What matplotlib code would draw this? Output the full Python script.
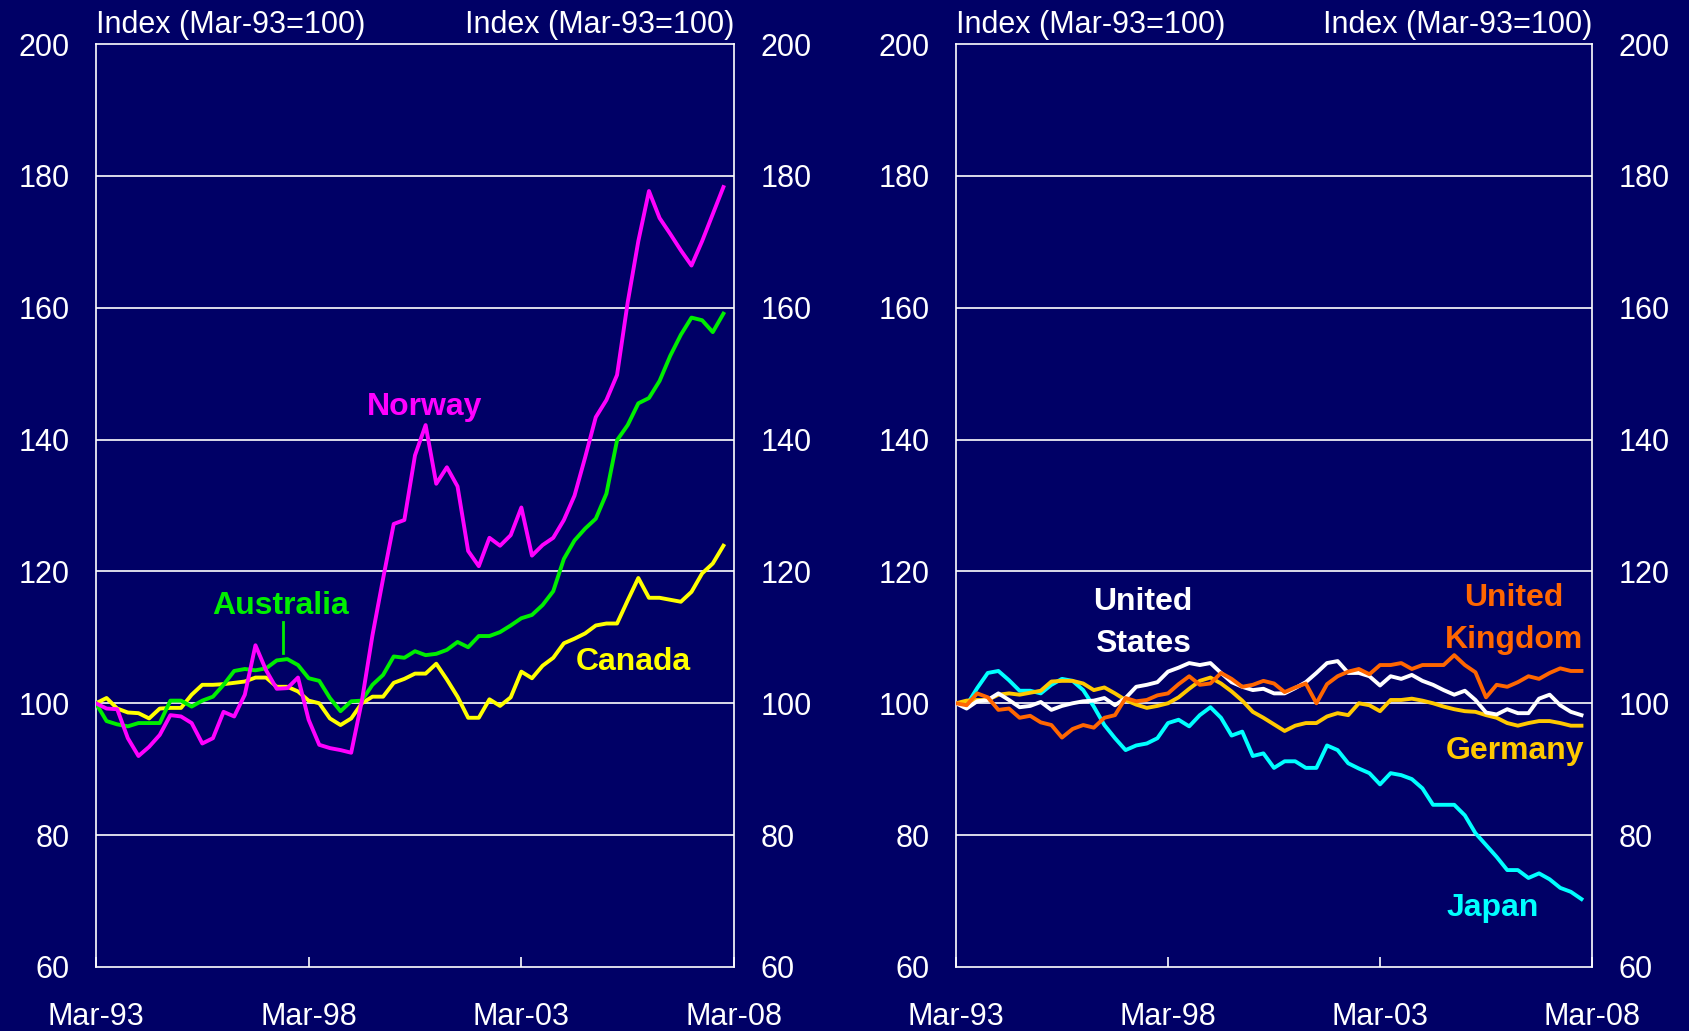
import numpy as np
import matplotlib
matplotlib.use("Agg")
import matplotlib.pyplot as plt

# quarterly, Mar-93 .. Dec-07, index Mar-93 = 100
quarters = np.arange(60)

norway = [100, 99.2, 99.1, 94.7, 92.0, 93.4, 95.2, 98.2, 98.0, 97.0,
          93.9, 94.7, 98.7, 98.0, 101.3, 108.8, 105.0, 102.2, 102.3, 103.9,
          97.5, 93.7, 93.2, 92.9, 92.5, 100.3, 110.3, 118.9, 127.2, 127.8,
          137.6, 142.2, 133.3, 135.8, 132.9, 123.1, 120.8, 125.1, 123.9, 125.5,
          129.7, 122.4, 124.0, 125.1, 127.8, 131.5, 137.3, 143.4, 146.0, 149.8,
          160.8, 170.1, 177.7, 173.6, 171.2, 168.7, 166.4, 170.1, 174.2, 178.3]
australia = [100, 97.3, 96.8, 96.5, 97.0, 97.0, 97.0, 100.4, 100.4, 99.5,
             100.4, 101.0, 102.8, 104.9, 105.2, 105.0, 105.3, 106.5, 106.7, 105.8,
             103.8, 103.4, 100.8, 98.8, 100.3, 100.4, 102.8, 104.3, 107.1, 106.9,
             107.9, 107.3, 107.5, 108.1, 109.3, 108.5, 110.2, 110.2, 110.8, 111.8,
             112.9, 113.4, 114.9, 117.0, 121.9, 124.7, 126.5, 128.0, 131.8, 139.9,
             142.2, 145.5, 146.3, 148.9, 152.7, 155.9, 158.5, 158.1, 156.3, 159.1]
canada = [100, 100.8, 99.2, 98.6, 98.5, 97.7, 99.2, 99.3, 99.3, 101.3,
          102.8, 102.8, 102.9, 103.1, 103.3, 103.9, 103.9, 102.5, 102.5, 101.8,
          100.4, 100.0, 97.7, 96.7, 97.7, 100.0, 101.0, 101.0, 103.1, 103.7,
          104.5, 104.5, 106.0, 103.6, 101.0, 97.8, 97.8, 100.6, 99.6, 100.9,
          104.8, 103.8, 105.7, 106.9, 109.1, 109.8, 110.6, 111.8, 112.1, 112.1,
          115.6, 119.0, 116.0, 116.0, 115.7, 115.4, 116.9, 119.7, 121.2, 123.9]

japan = [100, 99.7, 102.3, 104.6, 104.9, 103.5, 101.9, 101.9, 101.5, 102.8,
         103.7, 103.4, 102.0, 99.5, 96.7, 94.7, 92.9, 93.6, 93.9, 94.7,
         97.0, 97.5, 96.5, 98.2, 99.4, 97.8, 95.1, 95.7, 92.0, 92.4,
         90.2, 91.2, 91.2, 90.2, 90.2, 93.6, 92.9, 90.9, 90.1, 89.4,
         87.7, 89.4, 89.1, 88.5, 87.1, 84.6, 84.6, 84.6, 83.0, 80.3,
         78.5, 76.7, 74.7, 74.7, 73.5, 74.2, 73.3, 72.0, 71.4, 70.3]
us = [100, 99.2, 100.3, 100.5, 101.5, 100.5, 99.4, 99.6, 100.2, 99.0,
      99.6, 100.0, 100.3, 100.4, 100.8, 99.7, 100.8, 102.5, 102.8, 103.2,
      104.8, 105.4, 106.1, 105.8, 106.1, 104.6, 103.2, 102.5, 102.0, 102.2,
      101.5, 101.5, 102.3, 103.2, 104.6, 106.1, 106.4, 104.6, 104.6, 104.1,
      102.7, 104.1, 103.7, 104.3, 103.4, 102.8, 102.0, 101.3, 101.9, 100.5,
      98.6, 98.3, 99.1, 98.5, 98.5, 100.7, 101.3, 99.7, 98.7, 98.2]
uk = [100, 99.7, 101.5, 100.9, 99.0, 99.2, 97.8, 98.1, 97.1, 96.7,
      94.8, 96.1, 96.7, 96.3, 97.8, 98.2, 100.8, 100.3, 100.5, 101.2,
      101.5, 102.9, 104.1, 102.8, 103.0, 104.6, 103.7, 102.5, 102.8, 103.4,
      103.0, 101.7, 102.4, 103.0, 100.0, 102.9, 104.1, 104.8, 105.2, 104.4,
      105.8, 105.8, 106.1, 105.2, 105.8, 105.8, 105.8, 107.3, 105.8, 104.7,
      100.9, 102.8, 102.5, 103.2, 104.1, 103.7, 104.6, 105.3, 104.9, 104.9]
germany = [100, 100.4, 100.5, 100.5, 101.3, 101.5, 101.3, 101.6, 101.9, 103.3,
           103.4, 103.4, 103.0, 102.0, 102.4, 101.5, 100.5, 99.8, 99.3, 99.6,
           100.0, 100.9, 102.2, 103.4, 103.9, 103.0, 101.8, 100.4, 98.7, 97.8,
           96.8, 95.8, 96.6, 97.0, 97.0, 98.0, 98.5, 98.2, 100.0, 99.7,
           98.8, 100.5, 100.5, 100.7, 100.4, 100.0, 99.5, 99.1, 98.8, 98.7,
           98.2, 97.8, 97.0, 96.6, 97.0, 97.3, 97.3, 97.0, 96.6, 96.6]

xtick_pos = [0, 20, 40, 60]
xtick_labels = ["Mar-93", "Mar-98", "Mar-03", "Mar-08"]
yticks = [60, 80, 100, 120, 140, 160, 180, 200]

BG = "#000066"
plt.rcParams["font.family"] = ["Liberation Sans", "DejaVu Sans"]

fig = plt.figure(figsize=(16.89, 10.31), dpi=100, facecolor=BG)
ax1 = fig.add_axes([0.0568, 0.0621, 0.3778, 0.8952])
ax2 = fig.add_axes([0.5660, 0.0621, 0.3766, 0.8952])


def style(ax):
    ax.set_facecolor(BG)
    ax.set_xlim(0, 60)
    ax.set_ylim(60, 200)
    for y in yticks[1:-1]:
        ax.axhline(y, color="white", lw=1.2, zorder=1)
    for s in ax.spines.values():
        s.set_color("white")
        s.set_linewidth(1.2)
    ax.set_xticks(xtick_pos)
    ax.set_xticklabels(xtick_labels)
    ax.set_yticks(yticks)
    ax.tick_params(axis="x", direction="in", length=7, width=1.2,
                   color="white", labelcolor="white", labelsize=22, pad=25)
    ax.tick_params(axis="y", length=0, labelcolor="white", labelsize=22,
                   pad=19, labelleft=True, labelright=True)
    ax.text(0.0, 1.004, "Index (Mar-93=100)", transform=ax.transAxes,
            ha="left", va="bottom", color="white", fontsize=22)
    ax.text(1.0, 1.004, "Index (Mar-93=100)", transform=ax.transAxes,
            ha="right", va="bottom", color="white", fontsize=22)


style(ax1)
style(ax2)

lw = 2.8
ax1.plot(quarters, canada, color="#FFFF00", lw=lw, zorder=3)
ax1.plot(quarters, australia, color="#00EE00", lw=lw, zorder=4)
ax1.plot(quarters, norway, color="#FF00FF", lw=lw, zorder=5)

ax2.plot(quarters, japan, color="#00FFFF", lw=lw, zorder=3)
ax2.plot(quarters, germany, color="#FFC800", lw=lw, zorder=4)
ax2.plot(quarters, us, color="white", lw=lw, zorder=5)
ax2.plot(quarters, uk, color="#FF6600", lw=lw, zorder=6)

lab = dict(fontsize=23, fontweight="bold", ha="center", va="center")
ax1.text(30.9, 144.9, "Norway", color="#FF00FF", **lab)
ax1.text(17.4, 114.7, "Australia", color="#00EE00", **lab)
ax1.plot([17.6, 17.6], [107.6, 112.3], color="#00EE00", lw=2)
ax1.text(50.5, 106.3, "Canada", color="#FFFF00", **lab)

ax2.text(17.6, 112.2, "United\nStates", color="white", linespacing=1.5, **lab)
ax2.text(52.6, 112.8, "United\nKingdom", color="#FF6600", linespacing=1.5, **lab)
ax2.text(52.7, 92.8, "Germany", color="#FFC800", **lab)
ax2.text(50.6, 69.0, "Japan", color="#00FFFF", **lab)

fig.savefig("out.png", dpi=100, facecolor=BG)
